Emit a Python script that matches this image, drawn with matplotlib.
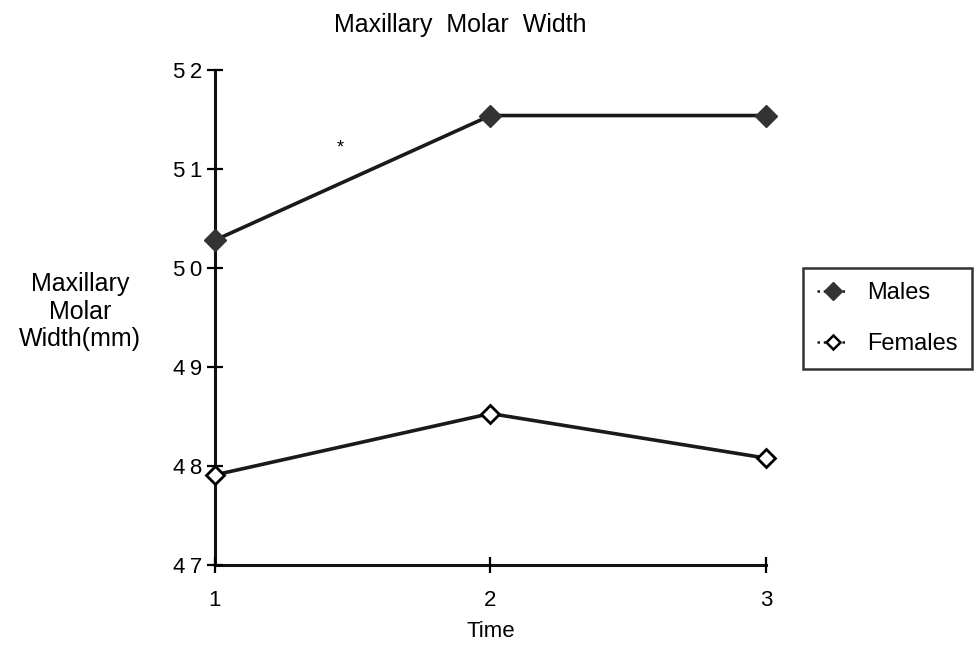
import numpy as np
from matplotlib import pyplot as plt
from matplotlib.lines import Line2D

plt.rcParams['font.family'] = ['Liberation Sans', 'DejaVu Sans']

time = [1, 2, 3]
males = [50.28, 51.54, 51.54]
females = [47.91, 48.53, 48.08]
y_ticks = [47, 48, 49, 50, 51, 52]
y_labels = ['4\u20097', '4\u20098', '4\u20099', '5\u20090', '5\u20091', '5\u20092']

fig = plt.figure(figsize=(9.76, 6.48), dpi=100)
ax = fig.add_axes([0.220, 0.128, 0.565, 0.764])

ax.plot(time, males, color='#1a1a1a', lw=2.6, marker='D', markersize=11,
        markerfacecolor='#333333', markeredgecolor='#333333', zorder=3, clip_on=False)
ax.plot(time, females, color='#1a1a1a', lw=2.6, marker='D', markersize=9,
        markerfacecolor='white', markeredgecolor='black', markeredgewidth=2.0,
        zorder=3, clip_on=False)

ax.set_xlim(1, 3)
ax.set_ylim(47, 52)
ax.set_xticks(time)
ax.set_yticks(y_ticks)
ax.set_yticklabels(y_labels)
ax.tick_params(direction='inout', length=12, width=1.6, labelsize=16, colors='black')
ax.tick_params(axis='y', pad=3)
ax.tick_params(axis='x', pad=12)
for side in ['top', 'right']:
    ax.spines[side].set_visible(False)
for side in ['left', 'bottom']:
    ax.spines[side].set_linewidth(2.2)
    ax.spines[side].set_color('#111111')
    ax.spines[side].set_zorder(1)

ax.set_xlabel('Time', fontsize=16, labelpad=7)
fig.text(0.082, 0.519, 'Maxillary\nMolar\nWidth(mm)', ha='center', va='center',
         fontsize=18, linespacing=1.2)
fig.text(0.472, 0.962, 'Maxillary  Molar  Width', ha='center', va='center', fontsize=18)

# stray asterisk
ax.text(1.457, 51.21, '*', ha='center', va='center', fontsize=13)

handles = [
    Line2D([], [], color='#1a1a1a', lw=1.8, ls=(0, (1, 1.5)), marker='D', markersize=9,
           markerfacecolor='#333333', markeredgecolor='#333333'),
    Line2D([], [], color='#1a1a1a', lw=1.8, ls=(0, (1, 1.5)), marker='D', markersize=7,
           markerfacecolor='white', markeredgecolor='black', markeredgewidth=1.8),
]
leg = fig.legend(handles, ['Males', 'Females'], loc='upper left',
                 bbox_to_anchor=(0.823, 0.586), fontsize=17, frameon=True,
                 fancybox=False, handlelength=1.3, handletextpad=0.8,
                 labelspacing=1.2, borderpad=0.6, borderaxespad=0)
leg.get_frame().set_edgecolor('black')
leg.get_frame().set_linewidth(1.8)

fig.savefig('out.png', dpi=100)
